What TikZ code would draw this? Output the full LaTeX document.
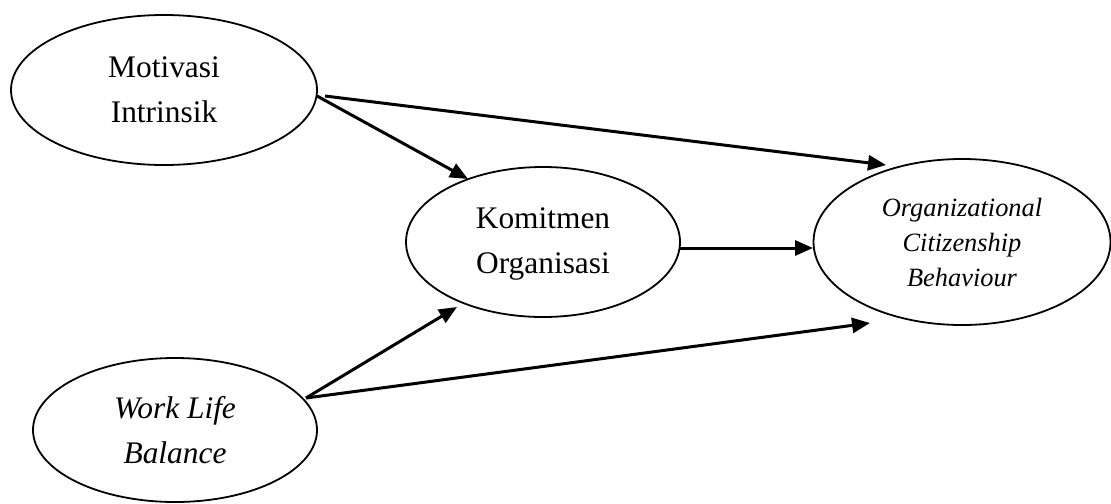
\documentclass[tikz,border=0pt]{standalone}
\usepackage{fontspec}
\setmainfont{Liberation Serif}
\usetikzlibrary{shapes.geometric,arrows.meta}
\begin{document}
\begin{tikzpicture}[x=0.5pt,y=-0.5pt,
  latent/.style={draw, ellipse, line width=0.9pt, inner sep=0pt, align=center,
    font=\fontsize{15.7pt}{22.5pt}\selectfont},
  arr/.style={line width=1.5pt, -{Triangle[length=9pt,width=7.5pt]}}]
  \useasboundingbox (0,0) rectangle (1111,503);
  % latent constructs
  \node[latent, minimum width=153pt, minimum height=75pt] (mot) at (164,90) {Motivasi\\Intrinsik};
  \node[latent, minimum width=137pt, minimum height=75pt] (kom) at (543,242)
        {\raisebox{3pt}{\begin{tabular}{@{}c@{}}Komitmen\\Organisasi\end{tabular}}};
  \node[latent, minimum width=148.5pt, minimum height=83pt,
        font=\fontsize{13.2pt}{17.5pt}\selectfont\itshape] (ocb) at (962,242)
        {Organizational\\Citizenship\\Behaviour};
  \node[latent, minimum width=142pt, minimum height=72pt, font=\fontsize{15.7pt}{22.5pt}\selectfont\itshape]
        (wlb) at (175,430) {Work Life\\Balance};
  % paths
  \draw[arr] ([shift={(161,6)}]mot.center) -- ([shift={(-76,-77)}]ocb.center);
  \draw[arr] ([shift={(153,6)}]mot.center) -- ([shift={(-75,-63)}]kom.center);
  \draw[arr] ([shift={(137,6)}]kom.center) -- ([shift={(-149,6)}]ocb.center);
  \draw[arr] ([shift={(131,-32)}]wlb.center) -- ([shift={(-86,65)}]kom.center);
  \draw[arr] ([shift={(131,-32)}]wlb.center) -- ([shift={(-92,81)}]ocb.center);
\end{tikzpicture}
\end{document}
